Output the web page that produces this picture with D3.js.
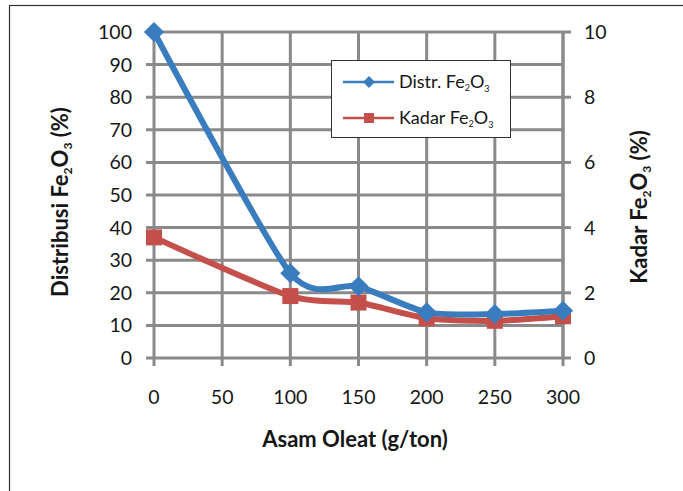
<!DOCTYPE html>
<html>
<head>
<meta charset="utf-8">
<script src="https://cdn.jsdelivr.net/npm/d3@7"></script>
<style>
  body { margin: 0; background: #fff; }
  text { font-family: Lato, "Noto Sans", sans-serif; fill: #161616; }
</style>
</head>
<body>
<svg id="chart"></svg>
<script>
// Data
const dosage = [0, 100, 150, 200, 250, 300];          // Asam Oleat (g/ton)
const distrFe2O3 = [100, 26, 22, 14, 13.5, 14.5];     // left axis, %
const kadarFe2O3 = [3.7, 1.9, 1.7, 1.22, 1.14, 1.28]; // right axis, %
const xTicks = [0, 50, 100, 150, 200, 250, 300];
const yLeftTicks = [0, 10, 20, 30, 40, 50, 60, 70, 80, 90, 100];
const yRightTicks = [0, 2, 4, 6, 8, 10];

const width = 683;
const height = 491;
const blue = '#3a7dbf';
const red = '#c4504c';
const gridColor = '#8a8a8a';

const svg = d3.select('#chart')
    .attr('width', width)
    .attr('height', height);

// outer frame (only left and top edges show)
svg.append('rect')
    .attr('x', 9.5).attr('y', 5.5)
    .attr('width', 700).attr('height', 500)
    .attr('fill', 'none')
    .attr('stroke', '#333')
    .attr('stroke-width', 1.2);

const x = d3.scaleLinear().domain([0, 300]).range([154, 563]);
const yL = d3.scaleLinear().domain([0, 100]).range([358, 32]);
const yR = d3.scaleLinear().domain([0, 10]).range([358, 32]);

// grid
const grid = svg.append('g');
grid.selectAll('.hgrid')
    .data(yLeftTicks)
    .enter().append('line')
    .attr('x1', x(0) - 8).attr('x2', x(300))
    .attr('y1', d => yL(d)).attr('y2', d => yL(d))
    .attr('stroke', gridColor).attr('stroke-width', 3);
grid.selectAll('.vgrid')
    .data(xTicks)
    .enter().append('line')
    .attr('x1', d => x(d)).attr('x2', d => x(d))
    .attr('y1', yL(100)).attr('y2', yL(0) + 8)
    .attr('stroke', gridColor).attr('stroke-width', 3);

// right axis line + ticks
grid.append('line')
    .attr('x1', x(300)).attr('x2', x(300))
    .attr('y1', yR(10)).attr('y2', yR(0))
    .attr('stroke', gridColor).attr('stroke-width', 3);
grid.selectAll('.rtick')
    .data(yRightTicks)
    .enter().append('line')
    .attr('x1', x(300)).attr('x2', x(300) + 8)
    .attr('y1', d => yR(d)).attr('y2', d => yR(d))
    .attr('stroke', gridColor).attr('stroke-width', 3);

// tick labels
svg.selectAll('.ylab')
    .data(yLeftTicks)
    .enter().append('text')
    .attr('x', 132)
    .attr('y', d => yL(d))
    .attr('dy', '0.36em')
    .attr('text-anchor', 'end')
    .attr('font-size', 19.5)
    .text(d => d);

svg.selectAll('.yrlab')
    .data(yRightTicks)
    .enter().append('text')
    .attr('x', 584)
    .attr('y', d => yR(d))
    .attr('dy', '0.36em')
    .attr('text-anchor', 'start')
    .attr('font-size', 19.5)
    .text(d => d);

svg.selectAll('.xlab')
    .data(xTicks)
    .enter().append('text')
    .attr('x', d => x(d))
    .attr('y', 404)
    .attr('text-anchor', 'middle')
    .attr('font-size', 19.5)
    .text(d => d);

// axis titles
function fe2o3Title(sel, before, after) {
    sel.append('tspan').text(before + 'Fe');
    sel.append('tspan').attr('font-size', '0.55em').attr('dy', '0.3em').text('2');
    sel.append('tspan').attr('dy', '-0.17em').text('O');
    sel.append('tspan').attr('font-size', '0.55em').attr('dy', '0.3em').text('3');
    sel.append('tspan').attr('dy', '-0.17em').text(after);
}

svg.append('text')
    .attr('transform', 'translate(68,202) rotate(-90)')
    .attr('text-anchor', 'middle')
    .attr('font-size', 22)
    .attr('font-weight', 'bold')
    .call(fe2o3Title, 'Distribusi ', ' (%)');

svg.append('text')
    .attr('transform', 'translate(647,207) rotate(-90)')
    .attr('text-anchor', 'middle')
    .attr('font-size', 22)
    .attr('font-weight', 'bold')
    .call(fe2o3Title, 'Kadar ', ' (%)');

svg.append('text')
    .attr('x', 355)
    .attr('y', 447)
    .attr('text-anchor', 'middle')
    .attr('font-size', 22)
    .attr('font-weight', 'bold')
    .text('Asam Oleat (g/ton)');

// series (smoothed like the spreadsheet line)
const smooth = d3.curveCardinal.tension(0.3);
const lineL = d3.line()
    .x((d, i) => x(dosage[i]))
    .y(d => yL(d))
    .curve(smooth);
const lineR = d3.line()
    .x((d, i) => x(dosage[i]))
    .y(d => yR(d))
    .curve(smooth);

svg.append('path')
    .attr('d', lineR(kadarFe2O3))
    .attr('fill', 'none')
    .attr('stroke', red)
    .attr('stroke-width', 6)
    .attr('stroke-linejoin', 'round');

svg.selectAll('.sq')
    .data(kadarFe2O3)
    .enter().append('rect')
    .attr('x', (d, i) => x(dosage[i]) - 8)
    .attr('y', d => yR(d) - 8)
    .attr('width', 16).attr('height', 16)
    .attr('fill', red);

svg.append('path')
    .attr('d', lineL(distrFe2O3))
    .attr('fill', 'none')
    .attr('stroke', blue)
    .attr('stroke-width', 6)
    .attr('stroke-linejoin', 'round');

svg.selectAll('.dia')
    .data(distrFe2O3)
    .enter().append('path')
    .attr('d', d3.symbol().type(d3.symbolDiamond2).size(260))
    .attr('transform', (d, i) => `translate(${x(dosage[i])},${yL(d)})`)
    .attr('fill', blue);

// legend
const legend = svg.append('g').attr('transform', 'translate(331,60)');
legend.append('rect')
    .attr('x', 0.5).attr('y', 0.5)
    .attr('width', 179).attr('height', 77)
    .attr('fill', '#fff')
    .attr('stroke', '#333')
    .attr('stroke-width', 1);

const legendItems = [
    { color: blue, label: 'Distr. ', marker: 'diamond' },
    { color: red, label: 'Kadar ', marker: 'square' }
];
legendItems.forEach((item, i) => {
    const yy = 22 + i * 36;
    legend.append('line')
        .attr('x1', 12).attr('x2', 63)
        .attr('y1', yy).attr('y2', yy)
        .attr('stroke', item.color)
        .attr('stroke-width', 2.5);
    if (item.marker === 'diamond') {
        legend.append('path')
            .attr('d', d3.symbol().type(d3.symbolDiamond2).size(90))
            .attr('transform', `translate(38,${yy})`)
            .attr('fill', item.color);
    } else {
        legend.append('rect')
            .attr('x', 33).attr('y', yy - 5)
            .attr('width', 10).attr('height', 10)
            .attr('fill', item.color);
    }
    const t = legend.append('text')
        .attr('x', 68)
        .attr('y', yy)
        .attr('dy', '0.35em')
        .attr('font-size', 18);
    t.append('tspan').text(item.label + 'Fe');
    t.append('tspan').attr('font-size', '0.5em').attr('dy', '0.35em').text('2');
    t.append('tspan').attr('dy', '-0.17em').text('O');
    t.append('tspan').attr('font-size', '0.5em').attr('dy', '0.35em').text('3');
});
</script>
</body>
</html>
